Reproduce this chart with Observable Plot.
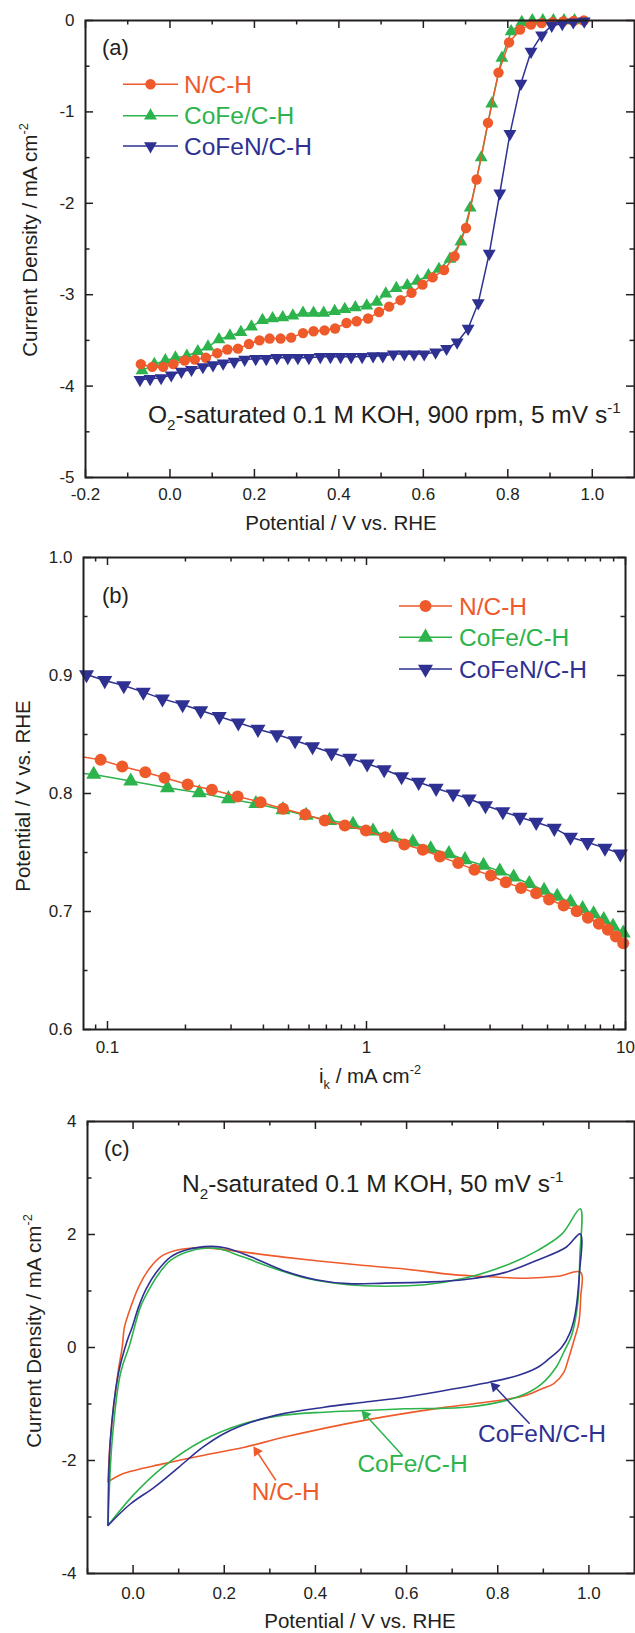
<!DOCTYPE html>
<html><head><meta charset="utf-8">
<script src="https://cdn.jsdelivr.net/npm/d3@7"></script>
<script src="https://cdn.jsdelivr.net/npm/@observablehq/plot@0.6"></script>
<style>
body{margin:0;background:#fff;}
#root{position:relative;width:635px;height:1633px;overflow:hidden;background:#fff;}
</style></head><body><div id="root"></div>
<script>
// ---------------- DATA ----------------
const seriesNames = ["N/C-H", "CoFe/C-H", "CoFeN/C-H"];

// (a) LSV: potential (V vs RHE) and current density (mA cm-2)
const lsvNC_V = [-0.069,-0.042,-0.016,0.008,0.035,0.059,0.085,0.112,0.136,0.161,0.187,0.212,0.236,0.262,0.287,0.315,0.340,0.366,0.391,0.418,0.442,0.469,0.495,0.519,0.546,0.572,0.598,0.622,0.649,0.674,0.701,0.726,0.753,0.778,0.803,0.829,0.855,0.880,0.906,0.931,0.956,0.980];
const lsvNC_J = [-3.76,-3.79,-3.79,-3.76,-3.72,-3.71,-3.69,-3.64,-3.60,-3.59,-3.54,-3.50,-3.48,-3.48,-3.47,-3.42,-3.40,-3.39,-3.37,-3.31,-3.29,-3.26,-3.19,-3.13,-3.06,-2.98,-2.89,-2.81,-2.73,-2.58,-2.27,-1.74,-1.12,-0.57,-0.24,-0.10,-0.044,-0.029,-0.018,-0.010,-0.005,0];
const lsvCoFe_V = [-0.066,-0.037,-0.011,0.013,0.040,0.066,0.090,0.116,0.142,0.168,0.193,0.219,0.243,0.267,0.291,0.315,0.340,0.364,0.390,0.414,0.439,0.466,0.490,0.511,0.536,0.562,0.586,0.612,0.637,0.663,0.689,0.711,0.737,0.762,0.786,0.808,0.833,0.858,0.883,0.908,0.933,0.958];
const lsvCoFe_J = [-3.83,-3.76,-3.72,-3.69,-3.67,-3.62,-3.57,-3.49,-3.45,-3.41,-3.35,-3.28,-3.26,-3.25,-3.23,-3.20,-3.20,-3.20,-3.18,-3.16,-3.14,-3.12,-3.08,-2.99,-2.93,-2.90,-2.85,-2.79,-2.72,-2.61,-2.42,-2.05,-1.50,-0.91,-0.41,-0.12,-0.02,0,0,0,0,0];
const lsvCoFeN_V = [-0.071,-0.047,-0.021,0.003,0.027,0.051,0.078,0.102,0.126,0.152,0.177,0.203,0.228,0.253,0.279,0.303,0.329,0.356,0.380,0.404,0.429,0.455,0.481,0.504,0.529,0.555,0.578,0.602,0.629,0.655,0.680,0.706,0.730,0.756,0.781,0.805,0.831,0.855,0.880,0.904,0.929,0.955,0.981];
const lsvCoFeN_J = [-3.93,-3.92,-3.91,-3.88,-3.84,-3.82,-3.79,-3.77,-3.75,-3.73,-3.71,-3.70,-3.70,-3.69,-3.69,-3.69,-3.69,-3.68,-3.68,-3.68,-3.68,-3.68,-3.67,-3.67,-3.65,-3.65,-3.65,-3.65,-3.63,-3.59,-3.52,-3.37,-3.09,-2.55,-1.89,-1.24,-0.69,-0.34,-0.16,-0.055,-0.036,-0.018,-0.008];

// (b) Tafel: kinetic current (mA cm-2) and potential (V vs RHE); first N/C and CoFe points start the line only
const tafNC_ik = [0.0808,0.0941,0.114,0.140,0.166,0.204,0.253,0.318,0.390,0.476,0.580,0.690,0.825,0.995,1.18,1.40,1.65,1.92,2.26,2.61,3.02,3.45,3.95,4.52,5.07,5.77,6.48,7.16,7.89,8.55,9.18,9.8];
const tafNC_E = [0.831,0.8285,0.8229,0.818,0.8133,0.8076,0.8031,0.7975,0.7926,0.787,0.7822,0.7771,0.7729,0.7686,0.763,0.7568,0.7523,0.7466,0.741,0.7353,0.7305,0.7248,0.72,0.7155,0.7102,0.7051,0.7003,0.6947,0.6896,0.6845,0.6788,0.6731];
const tafCoFe_ik = [0.0808,0.0885,0.123,0.1705,0.226,0.293,0.374,0.476,0.585,0.72,0.887,1.06,1.26,1.51,1.77,2.08,2.40,2.83,3.27,3.70,4.25,4.85,5.45,6.13,6.83,7.53,8.24,8.95,9.8];
const tafCoFe_E = [0.817,0.8161,0.8105,0.8048,0.8006,0.7955,0.7913,0.7862,0.7814,0.7771,0.7737,0.768,0.763,0.7587,0.7531,0.7489,0.7438,0.739,0.7342,0.7291,0.7235,0.7178,0.7127,0.7079,0.7023,0.698,0.693,0.6873,0.6816];
const tafCoFeN_ik = [0.083,0.0976,0.1156,0.1375,0.163,0.195,0.229,0.270,0.320,0.381,0.451,0.530,0.619,0.733,0.862,1.006,1.17,1.366,1.59,1.857,2.16,2.49,2.88,3.36,3.91,4.52,5.31,6.13,7.13,8.33,9.55];
const tafCoFeN_E = [0.9008,0.8958,0.8915,0.8859,0.8802,0.8754,0.8703,0.8653,0.8599,0.8545,0.85,0.8449,0.8398,0.8345,0.8299,0.8252,0.8203,0.8144,0.8096,0.8045,0.7997,0.7955,0.7898,0.7847,0.7799,0.7757,0.7706,0.763,0.7587,0.7537,0.7489];

// (c) CV loops: potential and current density
const cvNC_V = [-0.055,-0.050,-0.0325,-0.024,-0.019,-0.010,0.012,0.038,0.065,0.100,0.144,0.180,0.330,0.507,0.596,0.702,0.773,0.861,0.932,0.982,0.982,0.978,0.967,0.954,0.945,0.923,0.897,0.861,0.773,0.684,0.507,0.330,0.242,0.153,0.065,-0.024,-0.055];
const cvNC_J = [-2.38,-1.65,-0.41,0.0,0.36,0.60,1.07,1.42,1.63,1.73,1.765,1.75,1.60,1.45,1.39,1.29,1.256,1.227,1.26,1.33,0.9,0.45,0.12,-0.23,-0.44,-0.64,-0.73,-0.85,-0.97,-1.06,-1.29,-1.59,-1.77,-1.91,-2.06,-2.24,-2.38];
const cvCoFe_V = [-0.055,-0.046,-0.028,-0.007,0.003,0.016,0.034,0.056,0.082,0.118,0.162,0.189,0.242,0.313,0.383,0.472,0.552,0.640,0.729,0.817,0.888,0.941,0.981,0.980,0.976,0.963,0.945,0.928,0.897,0.861,0.817,0.729,0.596,0.507,0.419,0.330,0.242,0.153,0.065,0.003,-0.055];
const cvCoFe_J = [-3.15,-1.65,-0.47,0.06,0.36,0.715,1.01,1.30,1.54,1.69,1.76,1.747,1.60,1.39,1.22,1.11,1.085,1.11,1.23,1.45,1.72,2.01,2.455,1.6,0.83,0.24,-0.08,-0.35,-0.64,-0.82,-0.94,-1.057,-1.085,-1.115,-1.145,-1.20,-1.35,-1.646,-2.12,-2.59,-3.15];
const cvCoFeN_V = [-0.055,-0.050,-0.0325,-0.013,-0.002,0.012,0.029,0.051,0.082,0.118,0.171,0.206,0.260,0.330,0.401,0.472,0.552,0.640,0.729,0.817,0.888,0.950,0.981,0.979,0.970,0.958,0.940,0.914,0.888,0.844,0.782,0.684,0.596,0.507,0.419,0.330,0.260,0.198,0.153,0.100,0.047,-0.006,-0.055];
const cvCoFeN_J = [-3.15,-1.65,-0.47,0.12,0.36,0.715,1.04,1.33,1.60,1.73,1.79,1.757,1.60,1.36,1.20,1.13,1.14,1.157,1.204,1.33,1.55,1.775,2.01,1.3,0.6,0.25,0.0,-0.19,-0.35,-0.496,-0.614,-0.76,-0.88,-0.968,-1.057,-1.17,-1.32,-1.53,-1.765,-2.12,-2.47,-2.77,-3.15];

// (c) annotation arrows (data coordinates)
const annLabel = ["N/C-H", "CoFe/C-H", "CoFeN/C-H"];
const annTextV = [0.335, 0.613, 0.897];
const annTextJ = [-2.56, -2.07, -1.54];
const annFromV = [0.313, 0.591, 0.870];
const annFromJ = [-2.35, -1.91, -1.35];
const annToV = [0.264, 0.501, 0.784];
const annToJ = [-1.75, -1.115, -0.614];

// Ticks
const aXMajor = [-0.2, 0, 0.2, 0.4, 0.6, 0.8, 1.0];
const aXLabels = ["-0.2", "0.0", "0.2", "0.4", "0.6", "0.8", "1.0"];
const aXMinor = [-0.1, 0.1, 0.3, 0.5, 0.7, 0.9];
const aYMajor = [0, -1, -2, -3, -4, -5];
const aYLabels = ["0", "-1", "-2", "-3", "-4", "-5"];
const aYMinor = [-0.5, -1.5, -2.5, -3.5, -4.5];
const bXMajor = [0.1, 1, 10];
const bXLabels = ["0.1", "1", "10"];
const bXMinor = [0.09, 0.2, 0.3, 0.4, 0.5, 0.6, 0.7, 0.8, 0.9, 2, 3, 4, 5, 6, 7, 8, 9];
const bYMajor = [0.6, 0.7, 0.8, 0.9, 1.0];
const bYLabels = ["0.6", "0.7", "0.8", "0.9", "1.0"];
const bYMinor = [0.65, 0.75, 0.85, 0.95];
const cXMajor = [0, 0.2, 0.4, 0.6, 0.8, 1.0];
const cXLabels = ["0.0", "0.2", "0.4", "0.6", "0.8", "1.0"];
const cXMinor = [-0.1, 0.1, 0.3, 0.5, 0.7, 0.9];
const cYMajor = [4, 2, 0, -2, -4];
const cYLabels = ["4", "2", "0", "-2", "-4"];
const cYMinor = [3, 1, -1, -3];

// ---------------- STYLE ----------------
const ink = "#231f20";
const colors = ["#ef5a2b", "#2db34b", "#2e3192"];
const FONT = "'Liberation Sans', Arial, Helvetica, sans-serif";
const root = document.getElementById("root");

function pts(xs, ys) { return xs.map((x, i) => ({x, y: ys[i]})); }

function boxMarks({xMajor, xLabels, xMinor, yMajor, yLabels, yMinor, iw, ih, xPad, yPad}) {
  const maj = 8, mnr = 4.5, sw = 1.5;
  const xm = new Map(xMajor.map((v, i) => [v, xLabels[i]]));
  const ym = new Map(yMajor.map((v, i) => [v, yLabels[i]]));
  const o = {stroke: ink, strokeWidth: sw};
  return [
    Plot.tickX(xMajor, {x: d => d, insetTop: ih - maj, ...o}),
    Plot.tickX(xMajor, {x: d => d, insetBottom: ih - maj, ...o}),
    Plot.tickX(xMinor, {x: d => d, insetTop: ih - mnr, ...o}),
    Plot.tickX(xMinor, {x: d => d, insetBottom: ih - mnr, ...o}),
    Plot.tickY(yMajor, {y: d => d, insetRight: iw - maj, ...o}),
    Plot.tickY(yMajor, {y: d => d, insetLeft: iw - maj, ...o}),
    Plot.tickY(yMinor, {y: d => d, insetRight: iw - mnr, ...o}),
    Plot.tickY(yMinor, {y: d => d, insetLeft: iw - mnr, ...o}),
    Plot.axisX(xMajor, {anchor: "bottom", tickSize: 0, tickPadding: xPad, tickFormat: d => xm.get(d), fontSize: 17}),
    Plot.axisY(yMajor, {anchor: "left", tickSize: 0, tickPadding: yPad, tickFormat: d => ym.get(d), fontSize: 17})
  ];
}

function rich(svg, x, y, parts, {size = 20, anchor = "start", rotate = 0, fill = ink} = {}) {
  const t = d3.select(svg).append("text")
    .attr("x", x).attr("y", y).attr("text-anchor", anchor)
    .attr("font-size", size).attr("fill", fill).attr("font-family", FONT);
  if (rotate) t.attr("transform", `rotate(${rotate} ${x} ${y})`);
  let shift = 0;
  for (const [s, k] of parts) {
    const target = k === "sup" ? -0.42 * size : k === "sub" ? 0.28 * size : 0;
    const ts = t.append("tspan").attr("dy", target - shift).text(s);
    if (k !== "n") ts.attr("font-size", size * 0.62);
    shift = target;
  }
}

function legend(svg, x0, x1, xt, ys, sizes) {
  const g = d3.select(svg).append("g");
  const syms = [d3.symbolCircle, d3.symbolTriangle, d3.symbolTriangle];
  const rots = [0, 0, 180];
  seriesNames.forEach((name, i) => {
    const y = ys[i];
    g.append("line").attr("x1", x0).attr("x2", x1).attr("y1", y).attr("y2", y)
      .attr("stroke", colors[i]).attr("stroke-width", 1.5);
    g.append("path").attr("d", d3.symbol(syms[i], Math.PI * sizes[i] * sizes[i])())
      .attr("transform", `translate(${(x0 + x1) / 2},${y}) rotate(${rots[i]})`).attr("fill", colors[i]);
    g.append("text").attr("x", xt).attr("y", y + 8.6).attr("font-size", 24.5)
      .attr("text-anchor", "start")
      .attr("font-family", FONT).attr("fill", colors[i]).text(name);
  });
}

function place(svg, top) {
  svg.style.position = "absolute";
  svg.style.left = "0px";
  svg.style.top = top + "px";
  root.appendChild(svg);
}

const baseStyle = `font-family:${FONT};font-size:17px;color:${ink};background:transparent;overflow:visible;`;

// ---------------- PANEL (a) ----------------
{
  const W = 635, H = 540, mt = 20, mb = 63, ml = 85, mr = 1;
  const sNC = pts(lsvNC_V, lsvNC_J), sCoFe = pts(lsvCoFe_V, lsvCoFe_J), sCoFeN = pts(lsvCoFeN_V, lsvCoFeN_J);
  const svg = Plot.plot({
    width: W, height: H, marginTop: mt, marginBottom: mb, marginLeft: ml, marginRight: mr,
    style: baseStyle,
    x: {domain: [-0.2, 1.1], label: null},
    y: {domain: [-5, 0], label: null},
    marks: [
      ...boxMarks({xMajor: aXMajor, xLabels: aXLabels, xMinor: aXMinor, yMajor: aYMajor, yLabels: aYLabels, yMinor: aYMinor,
        iw: W - ml - mr, ih: H - mt - mb, xPad: 10, yPad: 11}),
      Plot.line(sCoFe, {x: "x", y: "y", stroke: colors[1], strokeWidth: 1.5}),
      Plot.dot(sCoFe, {x: "x", y: "y", symbol: "triangle", r: 4.8, fill: colors[1]}),
      Plot.line(sNC, {x: "x", y: "y", stroke: colors[0], strokeWidth: 1.5}),
      Plot.dot(sNC, {x: "x", y: "y", symbol: "circle", r: 5.2, fill: colors[0]}),
      Plot.line(sCoFeN, {x: "x", y: "y", stroke: colors[2], strokeWidth: 1.5}),
      Plot.dot(sCoFeN, {x: "x", y: "y", symbol: "triangle", r: 4.8, rotate: 180, fill: colors[2]}),
      Plot.frame({stroke: ink, strokeWidth: 2})
    ]
  });
  place(svg, 0);
  rich(svg, 102, 55, [["(a)", "n"]], {size: 22});
  legend(svg, 123, 178, 184, [84.3, 115.7, 146], [5.2, 4.8, 4.8]);
  rich(svg, 148, 423, [["O", "n"], ["2", "sub"], ["-saturated 0.1 M KOH, 900 rpm, 5 mV s", "n"], ["-1", "sup"]], {size: 24.5});
  rich(svg, 341, 530, [["Potential / V vs. RHE", "n"]], {size: 20.5, anchor: "middle"});
  rich(svg, 37, 240, [["Current Density / mA cm", "n"], ["-2", "sup"]], {size: 20.5, anchor: "middle", rotate: -90});
}

// ---------------- PANEL (b) ----------------
{
  const top = 540;
  const W = 635, H = 560, mt = 17, mb = 71, ml = 83, mr = 10;
  const lNC = pts(tafNC_ik, tafNC_E), lCoFe = pts(tafCoFe_ik, tafCoFe_E), lCoFeN = pts(tafCoFeN_ik, tafCoFeN_E);
  const svg = Plot.plot({
    width: W, height: H, marginTop: mt, marginBottom: mb, marginLeft: ml, marginRight: mr,
    style: baseStyle,
    x: {type: "log", domain: [0.0808, 10], label: null},
    y: {domain: [0.6, 1.0], label: null},
    marks: [
      ...boxMarks({xMajor: bXMajor, xLabels: bXLabels, xMinor: bXMinor, yMajor: bYMajor, yLabels: bYLabels, yMinor: bYMinor,
        iw: W - ml - mr, ih: H - mt - mb, xPad: 11, yPad: 11}),
      Plot.line(lCoFe, {x: "x", y: "y", stroke: colors[1], strokeWidth: 1.5}),
      Plot.dot(lCoFe.slice(1), {x: "x", y: "y", symbol: "triangle", r: 5.6, fill: colors[1]}),
      Plot.line(lNC, {x: "x", y: "y", stroke: colors[0], strokeWidth: 1.5}),
      Plot.dot(lNC.slice(1), {x: "x", y: "y", symbol: "circle", r: 6, fill: colors[0]}),
      Plot.line(lCoFeN, {x: "x", y: "y", stroke: colors[2], strokeWidth: 1.5}),
      Plot.dot(lCoFeN, {x: "x", y: "y", symbol: "triangle", r: 5.6, rotate: 180, fill: colors[2]}),
      Plot.frame({stroke: ink, strokeWidth: 2})
    ]
  });
  place(svg, top);
  rich(svg, 102, 603 - top, [["(b)", "n"]], {size: 22});
  legend(svg, 399, 452, 459, [606 - top, 637.3 - top, 669 - top], [6, 5.6, 5.6]);
  rich(svg, 370, 1083 - top, [["i", "n"], ["k", "sub"], [" / mA cm", "n"], ["-2", "sup"]], {size: 20.5, anchor: "middle"});
  rich(svg, 30, 796 - top, [["Potential / V vs. RHE", "n"]], {size: 20.5, anchor: "middle", rotate: -90});
}

// ---------------- PANEL (c) ----------------
{
  const top = 1100;
  const W = 635, H = 533, mt = 21, mb = 60, ml = 87, mr = 1;
  const xDom = [-0.1, 1.1], yDom = [-4, 4];
  const pxV = (W - ml - mr) / (xDom[1] - xDom[0]);
  const pxJ = (H - mt - mb) / (yDom[1] - yDom[0]);
  const headR = 3.9;
  const tipDist = 2 * Math.sqrt(Math.PI * headR * headR / (3 * Math.sqrt(3)));
  const cNC = pts(cvNC_V, cvNC_J), cCoFe = pts(cvCoFe_V, cvCoFe_J), cCoFeN = pts(cvCoFeN_V, cvCoFeN_J);
  const ann = annLabel.map((label, i) => {
    const sx = (annToV[i] - annFromV[i]) * pxV, sy = -(annToJ[i] - annFromJ[i]) * pxJ;
    const len = Math.hypot(sx, sy), ux = sx / len, uy = sy / len;
    return {
      label, tx: annTextV[i], ty: annTextJ[i], x1: annFromV[i], y1: annFromJ[i], x2: annToV[i], y2: annToJ[i],
      hx: annToV[i] - ux * tipDist / pxV, hy: annToJ[i] + uy * tipDist / pxJ,
      rot: Math.atan2(ux, -uy) * 180 / Math.PI, c: colors[i]
    };
  });
  const svg = Plot.plot({
    width: W, height: H, marginTop: mt, marginBottom: mb, marginLeft: ml, marginRight: mr,
    style: baseStyle,
    x: {domain: xDom, label: null},
    y: {domain: yDom, label: null},
    marks: [
      ...boxMarks({xMajor: cXMajor, xLabels: cXLabels, xMinor: cXMinor, yMajor: cYMajor, yLabels: cYLabels, yMinor: cYMinor,
        iw: W - ml - mr, ih: H - mt - mb, xPad: 13, yPad: 11}),
      Plot.line(cNC, {x: "x", y: "y", stroke: colors[0], strokeWidth: 1.6, curve: "catmull-rom"}),
      Plot.line(cCoFe, {x: "x", y: "y", stroke: colors[1], strokeWidth: 1.6, curve: "catmull-rom"}),
      Plot.line(cCoFeN, {x: "x", y: "y", stroke: colors[2], strokeWidth: 1.6, curve: "catmull-rom"}),
      Plot.link(ann, {x1: "x1", y1: "y1", x2: "hx", y2: "hy", stroke: "c", strokeWidth: 1.5}),
      Plot.dot(ann, {x: "hx", y: "hy", symbol: "triangle", r: headR, rotate: "rot", fill: "c"}),
      Plot.text(ann, {x: "tx", y: "ty", text: "label", fill: "c", fontSize: 24.5, textAnchor: "middle"}),
      Plot.frame({stroke: ink, strokeWidth: 2})
    ]
  });
  place(svg, top);
  rich(svg, 104, 1156 - top, [["(c)", "n"]], {size: 22});
  rich(svg, 182, 1192 - top, [["N", "n"], ["2", "sub"], ["-saturated 0.1 M KOH, 50 mV s", "n"], ["-1", "sup"]], {size: 24.5});
  rich(svg, 360, 1628 - top, [["Potential / V vs. RHE", "n"]], {size: 20.5, anchor: "middle"});
  rich(svg, 41, 1331 - top, [["Current Density / mA cm", "n"], ["-2", "sup"]], {size: 20.5, anchor: "middle", rotate: -90});
}
</script></body></html>
